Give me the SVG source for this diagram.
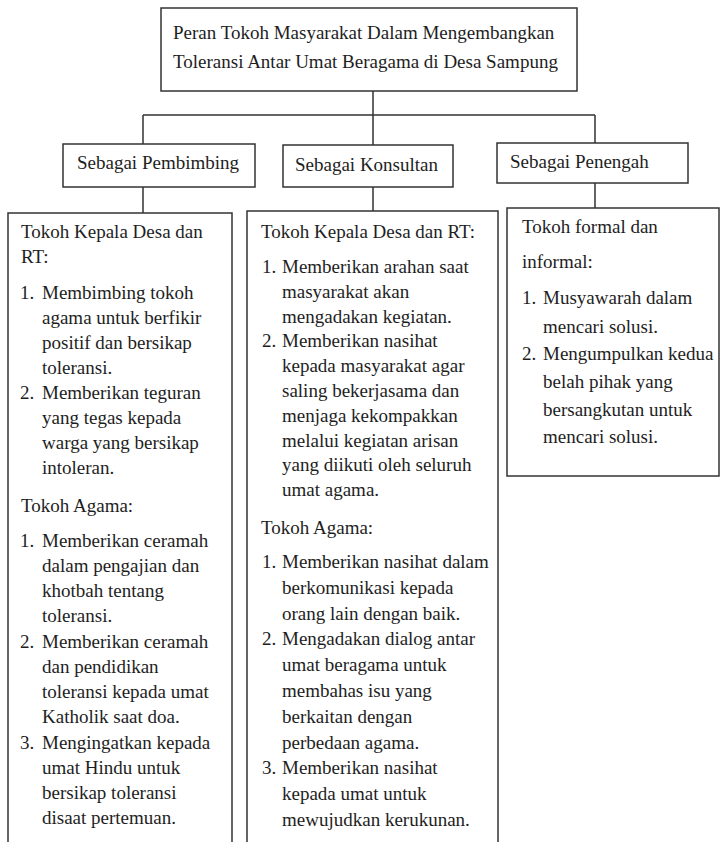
<svg xmlns="http://www.w3.org/2000/svg" width="722" height="842" viewBox="0 0 722 842">
<style>
.box{fill:#fff;stroke:#333;stroke-width:1.5}
.ln{fill:none;stroke:#333;stroke-width:1.5}
text{font-family:"Liberation Serif","Times New Roman",serif;font-size:19px;fill:#1e1e1e}
</style>
<rect width="722" height="842" fill="#fff"/>
<g id="connectors">
<path class="ln" d="M373 91V115M143 115H595M143 115V144M373 115V145M595 115V143M143 187V213M373 187V211M595 183V208"/>
</g>
<g id="root">
<rect class="box" x="161" y="8" width="416" height="83"/>
<text x="173" y="39">Peran Tokoh Masyarakat Dalam Mengembangkan</text>
<text x="173" y="68">Toleransi Antar Umat Beragama di Desa Sampung</text>
</g>
<g id="h-pembimbing">
<rect class="box" x="63" y="144" width="192" height="43"/>
<text x="77" y="169">Sebagai Pembimbing</text>
</g>
<g id="h-konsultan">
<rect class="box" x="283" y="145" width="170" height="42"/>
<text x="295" y="171">Sebagai Konsultan</text>
</g>
<g id="h-penengah">
<rect class="box" x="497" y="143" width="191" height="40"/>
<text x="510" y="168">Sebagai Penengah</text>
</g>
<g id="c-pembimbing">
<rect class="box" x="8" y="213" width="224" height="640"/>
<text x="21" y="238">Tokoh Kepala Desa dan</text>
<text x="21" y="263">RT:</text>
<text x="20" y="299">1.</text><text x="42" y="299">Membimbing tokoh</text>
<text x="42" y="324">agama untuk berfikir</text>
<text x="42" y="349">positif dan bersikap</text>
<text x="42" y="374">toleransi.</text>
<text x="20" y="399">2.</text><text x="42" y="399">Memberikan teguran</text>
<text x="42" y="424">yang tegas kepada</text>
<text x="42" y="449">warga yang bersikap</text>
<text x="42" y="474">intoleran.</text>
<text x="21" y="512">Tokoh Agama:</text>
<text x="20" y="547">1.</text><text x="42" y="547">Memberikan ceramah</text>
<text x="42" y="572">dalam pengajian dan</text>
<text x="42" y="597">khotbah tentang</text>
<text x="42" y="622">toleransi.</text>
<text x="20" y="648">2.</text><text x="42" y="648">Memberikan ceramah</text>
<text x="42" y="673">dan pendidikan</text>
<text x="42" y="698">toleransi kepada umat</text>
<text x="42" y="723">Katholik saat doa.</text>
<text x="20" y="749">3.</text><text x="42" y="749">Mengingatkan kepada</text>
<text x="42" y="774">umat Hindu untuk</text>
<text x="42" y="799">bersikap toleransi</text>
<text x="42" y="824">disaat pertemuan.</text>
</g>
<g id="c-konsultan">
<rect class="box" x="247" y="211" width="251" height="640"/>
<text x="261" y="238">Tokoh Kepala Desa dan RT:</text>
<text x="262" y="273">1.</text><text x="282" y="273">Memberikan arahan saat</text>
<text x="282" y="298">masyarakat akan</text>
<text x="282" y="323">mengadakan kegiatan.</text>
<text x="262" y="347">2.</text><text x="282" y="347">Memberikan nasihat</text>
<text x="282" y="372">kepada masyarakat agar</text>
<text x="282" y="397">saling bekerjasama dan</text>
<text x="282" y="422">menjaga kekompakkan</text>
<text x="282" y="447">melalui kegiatan arisan</text>
<text x="282" y="471">yang diikuti oleh seluruh</text>
<text x="282" y="496">umat agama.</text>
<text x="261" y="534">Tokoh Agama:</text>
<text x="262" y="568">1.</text><text x="282" y="568">Memberikan nasihat dalam</text>
<text x="282" y="594">berkomunikasi kepada</text>
<text x="282" y="620">orang lain dengan baik.</text>
<text x="262" y="645">2.</text><text x="282" y="645">Mengadakan dialog antar</text>
<text x="282" y="671">umat beragama untuk</text>
<text x="282" y="697">membahas isu yang</text>
<text x="282" y="723">berkaitan dengan</text>
<text x="282" y="749">perbedaan agama.</text>
<text x="262" y="774">3.</text><text x="282" y="774">Memberikan nasihat</text>
<text x="282" y="800">kepada umat untuk</text>
<text x="282" y="826">mewujudkan kerukunan.</text>
</g>
<g id="c-penengah">
<rect class="box" x="507" y="208" width="212" height="268"/>
<text x="522" y="233">Tokoh formal dan</text>
<text x="522" y="268">informal:</text>
<text x="522" y="304">1.</text><text x="543" y="304">Musyawarah dalam</text>
<text x="543" y="333">mencari solusi.</text>
<text x="522" y="360">2.</text><text x="543" y="360">Mengumpulkan kedua</text>
<text x="543" y="388">belah pihak yang</text>
<text x="543" y="416">bersangkutan untuk</text>
<text x="543" y="443">mencari solusi.</text>
</g>
</svg>
